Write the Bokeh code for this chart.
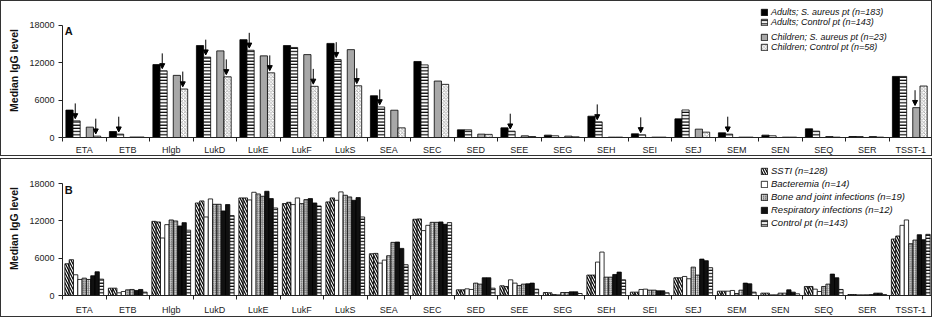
from bokeh.plotting import figure
from bokeh.layouts import column
from bokeh.models import (Range1d, FixedTicker, Legend, LegendItem, Label, Arrow,
                          NormalHead, ColumnDataSource)
from bokeh.embed import file_html
from bokeh.resources import INLINE

categories = ["ETA", "ETB", "Hlgb", "LukD", "LukE", "LukF", "LukS", "SEA", "SEC", "SED",
              "SEE", "SEG", "SEH", "SEI", "SEJ", "SEM", "SEN", "SEQ", "SER", "TSST-1"]
y_ticks = [0, 6000, 12000, 18000]

# Panel A
adults_sa = [4400, 960, 11700, 14750, 15700, 14750, 15100, 6700, 12200, 1230, 1550, 380, 3420, 590, 2990, 750, 380, 1390, 160, 9800]
adults_ctrl = [2670, 540, 10700, 12900, 14000, 14450, 12500, 4900, 11650, 1230, 1020, 270, 2510, 430, 4420, 540, 270, 1020, 160, 9800]
children_sa = [1660, 80, 9970, 13900, 13100, 13300, 14100, 4380, 9060, 540, 270, 220, 60, 60, 1340, 60, 60, 160, 160, 4790]
children_ctrl = [220, 80, 7780, 9740, 10380, 8210, 8300, 1550, 8530, 500, 160, 110, 60, 60, 860, 60, 60, 60, 60, 8260]
arrows_a = [("ETA", "adults_ctrl"), ("ETA", "children_ctrl"), ("ETB", "adults_ctrl"),
            ("Hlgb", "adults_ctrl"), ("Hlgb", "children_ctrl"), ("LukD", "adults_ctrl"),
            ("LukD", "children_ctrl"), ("LukE", "adults_ctrl"), ("LukE", "children_ctrl"),
            ("LukF", "children_ctrl"), ("LukS", "adults_ctrl"), ("LukS", "children_ctrl"),
            ("SEA", "adults_ctrl"), ("SEE", "adults_ctrl"), ("SEH", "adults_ctrl"),
            ("SEI", "adults_ctrl"), ("SEM", "adults_ctrl"), ("TSST-1", "children_sa")]

# Panel B
ssti_1 = [5100, 1180, 11920, 14870, 15680, 14770, 15040, 6710, 12250, 910, 1560, 480, 3280, 540, 2850, 700, 380, 1450, 160, 9080]
ssti_2 = [5750, 1180, 11820, 15200, 15680, 14980, 15680, 6770, 12300, 910, 1450, 430, 3280, 540, 2850, 700, 380, 1450, 160, 9560]
bact_1 = [3330, 430, 9240, 12620, 15360, 14610, 15300, 5210, 10430, 1070, 2520, 160, 5370, 970, 3060, 700, 110, 1020, 110, 11280]
bact_2 = [2580, 640, 11390, 15520, 16590, 15680, 16650, 5690, 11280, 970, 1990, 110, 6980, 1020, 2690, 810, 110, 640, 110, 12140]
bone_1 = [2790, 910, 12140, 14660, 16320, 14770, 16110, 6390, 11760, 1990, 1610, 480, 2950, 860, 4560, 320, 380, 1450, 110, 8320]
bone_2 = [2580, 970, 11980, 14660, 15950, 15410, 15840, 8540, 11760, 1830, 1830, 480, 2950, 860, 3280, 860, 380, 1830, 160, 8910]
resp_1 = [3170, 810, 11170, 13590, 16750, 15570, 15300, 8590, 11820, 2850, 1880, 590, 3380, 750, 5850, 1990, 910, 3440, 380, 9770]
resp_2 = [3810, 970, 11710, 14610, 15570, 14870, 15730, 7570, 11440, 2850, 1990, 590, 3760, 750, 5590, 1880, 540, 2850, 380, 8970]
control_b = [2630, 540, 10500, 12840, 14070, 14390, 12620, 4940, 11710, 1180, 1020, 320, 2520, 430, 4460, 540, 270, 970, 160, 9830]

FONT = "Liberation Sans"
n = len(categories)
centers = list(range(n))
bounds = [i - 0.5 for i in range(n + 1)]
Y_MAX = y_ticks[-1]


def base_fig(height, bottom, axis_px, panel_letter, standoff):
    # frame spans almost the whole canvas height so the legend is not clipped;
    # axis_px = pixel height of the 0..18000 span
    frame_h = height - 2 - bottom
    p = figure(width=932, height=height, output_backend="svg", toolbar_location=None,
               x_range=Range1d(-0.5, n - 0.5), y_range=Range1d(0, Y_MAX * frame_h / axis_px),
               min_border_left=61, min_border_right=1, min_border_top=2,
               min_border_bottom=bottom)
    p.outline_line_color = None
    p.grid.visible = False
    p.styles = {"border": "1px solid #333"}
    xa = p.xaxis[0]
    xa.ticker = FixedTicker(ticks=centers, minor_ticks=bounds)
    xa.major_label_overrides = {i: c for i, c in enumerate(categories)}
    xa.major_tick_in = 0
    xa.major_tick_out = 0
    xa.minor_tick_in = 0
    xa.minor_tick_out = 4
    xa.minor_tick_line_color = "#222"
    xa.axis_line_color = "#222"
    xa.major_label_standoff = standoff
    xa.major_label_text_font = FONT
    xa.major_label_text_font_size = "9px"
    xa.major_label_text_color = "#222"
    ya = p.yaxis[0]
    ya.ticker = FixedTicker(ticks=y_ticks, minor_ticks=[])
    ya.bounds = (0, Y_MAX)
    ya.major_tick_in = 0
    ya.major_tick_out = 4
    ya.minor_tick_line_color = None
    ya.axis_line_color = "#222"
    ya.major_tick_line_color = "#222"
    ya.major_label_text_font = FONT
    ya.major_label_text_font_size = "9px"
    ya.major_label_text_color = "#222"
    ya.major_label_standoff = 4
    ya.axis_label = "Median IgG level"
    ya.axis_label_text_font = FONT
    ya.axis_label_text_font_style = "bold"
    ya.axis_label_text_font_size = "10.5px"
    ya.axis_label_text_color = "#111"
    ya.axis_label_standoff = 6
    p.add_layout(Label(x=-0.45, y=Y_MAX, text=panel_letter, text_font=FONT,
                       text_font_style="bold", text_font_size="11px",
                       text_baseline="top", text_color="#111"))
    return p


leg_kw = dict(label_text_font=FONT, label_text_font_style="italic", label_text_font_size="9.5px",
              label_text_color="#111", glyph_width=8, glyph_height=8,
              label_height=8, label_standoff=3, spacing=0, padding=0, margin=0,
              border_line_color=None, background_fill_alpha=0)

# ---------------- Panel A ----------------
pa = base_fig(156, 19, 113, "A", 3)
series_a = {
    "adults_sa": (adults_sa, -0.339, dict(fill_color="#000000")),
    "adults_ctrl": (adults_ctrl, -0.177, dict(fill_color="white", hatch_pattern="-",
                                              hatch_color="#000", hatch_scale=3.2, hatch_weight=1.2)),
    "children_sa": (children_sa, 0.129, dict(fill_color="#a8a8a8")),
    "children_ctrl": (children_ctrl, 0.295, dict(fill_color="white", hatch_pattern="x",
                                                 hatch_color="#9a9a9a", hatch_scale=3.5, hatch_weight=0.8)),
}
labels_a = {
    "adults_sa": "Adults; S. aureus pt (n=183)",
    "adults_ctrl": "Adults; Control pt (n=143)",
    "children_sa": "Children; S. aureus pt (n=23)",
    "children_ctrl": "Children; Control pt (n=58)",
}
rend_a = {}
bw_a = 0.166
for key, (vals, off, style) in series_a.items():
    src = ColumnDataSource(dict(x=[c + off for c in centers], top=vals))
    rend_a[key] = pa.vbar(x="x", top="top", width=bw_a, source=src, line_color="#000",
                          line_width=0.8, **style)

ax0, ay0, ax1, ay1 = [], [], [], []
for cat, key in arrows_a:
    i = categories.index(cat)
    vals, off, _ = series_a[key]
    v = vals[i]
    xx = i + off - 0.03
    ax0.append(xx); ax1.append(xx)
    ay0.append(v + 2800); ay1.append(v + 350)
pa.add_layout(Arrow(end=NormalHead(size=5, fill_color="#000", line_color="#000", line_width=1),
                    source=ColumnDataSource(dict(x0=ax0, y0=ay0, x1=ax1, y1=ay1)),
                    x_start="x0", y_start="y0", x_end="x1", y_end="y1",
                    line_color="#000", line_width=1))

leg_kw_a = dict(leg_kw, label_text_font_size="9px")
legend_pos_a = [120, 110, 95, 85]
for key, ly in zip(["adults_sa", "adults_ctrl", "children_sa", "children_ctrl"], legend_pos_a):
    pa.add_layout(Legend(items=[LegendItem(label=labels_a[key], renderers=[rend_a[key]])],
                         location=(698, ly), **leg_kw_a))

# ---------------- Panel B ----------------
pb = base_fig(159, 23, 112, "B", 5)
ssti_style = dict(fill_color="white", hatch_pattern="\\", hatch_color="#000", hatch_scale=5, hatch_weight=1.2)
bact_style = dict(fill_color="white")
bone_style = dict(fill_color="#e6e6e6", hatch_pattern="/", hatch_color="#777", hatch_scale=2.2, hatch_weight=0.9)
resp_style = dict(fill_color="#111111")
ctrl_style = dict(fill_color="white", hatch_pattern="-", hatch_color="#000", hatch_scale=3.2, hatch_weight=1.2)
series_b = [
    ("SSTI (n=128)", ssti_1, ssti_style), (None, ssti_2, ssti_style),
    ("Bacteremia (n=14)", bact_1, bact_style), (None, bact_2, bact_style),
    ("Bone and joint infections (n=19)", bone_1, bone_style), (None, bone_2, bone_style),
    ("Respiratory infections (n=12)", resp_1, resp_style), (None, resp_2, resp_style),
    ("Control pt (n=143)", control_b, ctrl_style),
]
bw_b = 0.099
legend_pos_b = [119, 106, 93, 80, 67]
li = 0
for k, (lab, vals, style) in enumerate(series_b):
    off = (k - 4) * bw_b
    src = ColumnDataSource(dict(x=[c + off for c in centers], top=vals))
    r = pb.vbar(x="x", top="top", width=bw_b, source=src, line_color="#000", line_width=0.8, **style)
    if lab:
        pb.add_layout(Legend(items=[LegendItem(label=lab, renderers=[r])],
                             location=(698, legend_pos_b[li]), **leg_kw))
        li += 1

layout = column(pa, pb, spacing=2)
open("out.html", "w").write(file_html(layout, INLINE))
